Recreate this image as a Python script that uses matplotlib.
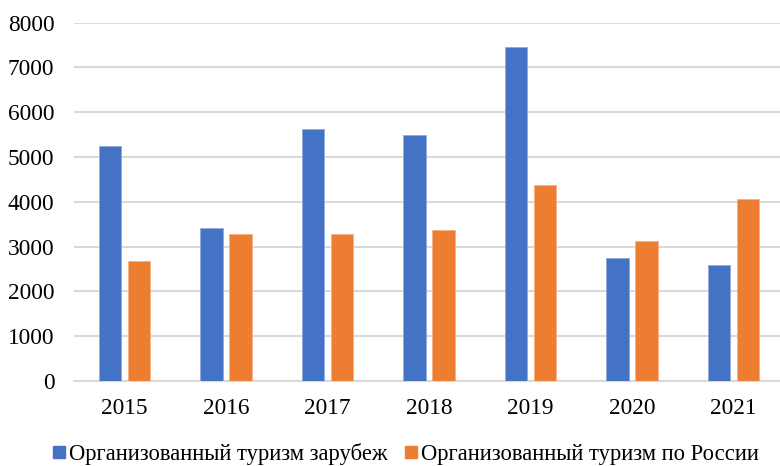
import numpy as np
import matplotlib.pyplot as plt
from matplotlib.lines import Line2D

years = ['2015', '2016', '2017', '2018', '2019', '2020', '2021']
abroad = [5250, 3410, 5625, 5485, 7450, 2740, 2590]
russia = [2670, 3275, 3275, 3370, 4370, 3120, 4055]
labels = ['Организованный туризм зарубеж', 'Организованный туризм по России']

blue = '#4472C4'
orange = '#ED7D31'

plt.rcParams['font.family'] = ['Liberation Serif', 'DejaVu Serif']

fig = plt.figure(figsize=(7.8, 4.66), dpi=100)
ax = fig.add_axes([0.0945, 0.1824, 0.911, 0.769])

x = np.arange(len(years))
w = 0.2235
off = 0.1433
ax.bar(x - off, abroad, w, color=blue, edgecolor='#8FAADC', linewidth=0.6, zorder=3)
ax.bar(x + off, russia, w, color=orange, edgecolor='#F4B183', linewidth=0.6, zorder=3)

ax.set_xlim(-0.5, len(years) - 0.5)
ax.set_ylim(0, 8000)
ax.set_yticks(range(0, 8001, 1000))
ax.set_xticks(x)
ax.set_xticklabels(years)
ax.yaxis.grid(True, color='#D9D9D9', linewidth=1.5, zorder=0)
ax.set_axisbelow(True)
for s in ['top', 'right', 'left']:
    ax.spines[s].set_visible(False)
ax.spines['bottom'].set_color('#D9D9D9')
ax.spines['bottom'].set_linewidth(1.5)
ax.tick_params(axis='both', length=0, labelsize=16.8)
ax.tick_params(axis='y', pad=14)
ax.tick_params(axis='x', pad=12.5)

handles = [Line2D([], [], marker='s', linestyle='none', markersize=8.5, color=blue),
           Line2D([], [], marker='s', linestyle='none', markersize=8.5, color=orange)]
fig.legend(handles, labels, loc='center', bbox_to_anchor=(0.52, 0.026), ncol=2,
           frameon=False, fontsize=16.3, handlelength=0.6, handletextpad=0.15,
           columnspacing=0.7, borderaxespad=0)

fig.savefig('out.png', dpi=100)
